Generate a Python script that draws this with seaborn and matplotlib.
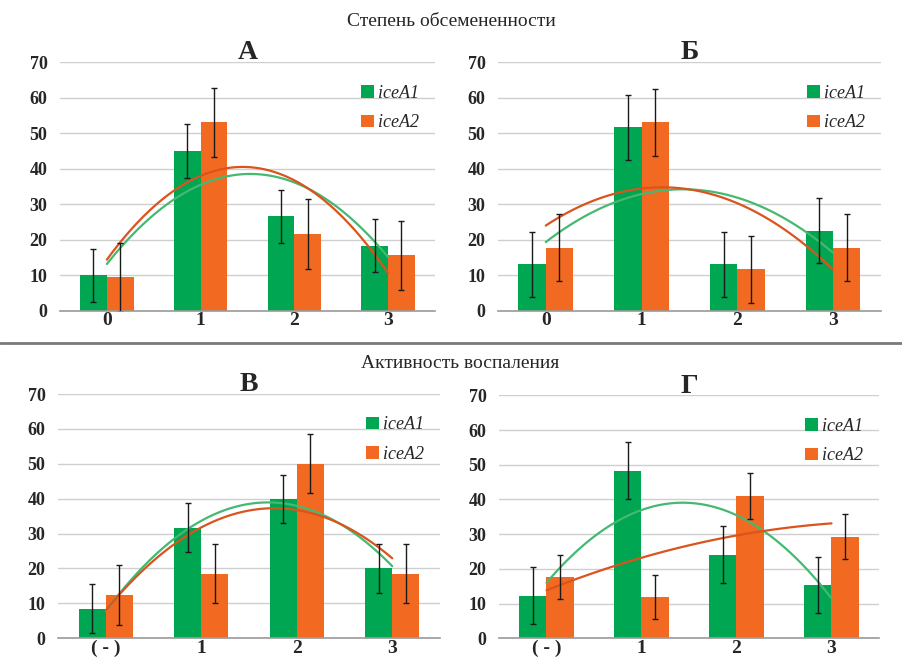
import numpy as np
import pandas as pd
import matplotlib
matplotlib.use('Agg')
import matplotlib.pyplot as plt
import seaborn as sns

# plot setting
sns.set_style('white')
plt.rcParams['font.family'] = ['Liberation Serif', 'DejaVu Serif']

# --- data ---
series = ['iceA1', 'iceA2']

cats_ab = ['0', '1', '2', '3']
cats_vg = ['( - )', '1', '2', '3']

# A
a_ice1 = [10.0, 45.0, 26.6, 18.3]
a_ice1_err = [7.4, 7.6, 7.4, 7.5]
a_ice2 = [9.4, 53.0, 21.7, 15.6]
a_ice2_err = [9.7, 9.8, 9.8, 9.8]

# Б
b_ice1 = [13.1, 51.6, 13.1, 22.6]
b_ice1_err = [9.1, 9.2, 9.1, 9.2]
b_ice2 = [17.8, 53.0, 11.7, 17.8]
b_ice2_err = [9.4, 9.4, 9.5, 9.5]

# В
v_ice1 = [8.4, 31.7, 39.9, 20.0]
v_ice1_err = [7.0, 7.1, 7.0, 7.0]
v_ice2 = [12.4, 18.5, 50.0, 18.5]
v_ice2_err = [8.5, 8.5, 8.5, 8.5]

# Г
g_ice1 = [12.2, 48.3, 24.1, 15.3]
g_ice1_err = [8.2, 8.2, 8.3, 8.1]
g_ice2 = [17.6, 11.8, 41.0, 29.3]
g_ice2_err = [6.4, 6.4, 6.6, 6.4]

bar_colors = ['#00a651', '#f26a21']
line_colors = ['#45b872', '#d9541e']


def draw_panel(ax, title, cats, v1, e1, v2, e2):
    df = pd.DataFrame({
        'cat': cats * 2,
        'value': v1 + v2,
        'series': [series[0]] * len(cats) + [series[1]] * len(cats),
    })
    sns.barplot(data=df, x='cat', y='value', hue='series', order=cats,
                hue_order=series, palette=bar_colors, width=0.57, gap=0,
                saturation=1, errorbar=None, linewidth=0, ax=ax, zorder=2)
    bar_conts = list(ax.containers)

    # error bars on each bar
    for cont, err in zip(bar_conts, [e1, e2]):
        xs = [p.get_x() + p.get_width() / 2 for p in cont.patches]
        ys = [p.get_height() for p in cont.patches]
        ax.errorbar(xs, ys, yerr=err, fmt='none', ecolor='#1a1a1a',
                    elinewidth=1.0, capsize=2, capthick=1.0, zorder=4)

    # 2nd order polynomial trend lines
    xpos = np.arange(len(cats))
    xx = np.linspace(0, len(cats) - 1, 100)
    for vals, col in zip([v1, v2], line_colors):
        coef = np.polyfit(xpos, vals, 2)
        ax.plot(xx, np.polyval(coef, xx), color=col, lw=1.6, zorder=3)

    ax.set_xlim(-0.5, len(cats) - 0.5)
    ax.set_ylim(0, 70)
    ax.set_yticks(range(0, 71, 10))
    ax.set_xlabel('')
    ax.set_ylabel('')
    ax.grid(axis='y', color='#cfcfcf', lw=1, zorder=0)
    ax.set_axisbelow(True)
    for s in ['top', 'right', 'left']:
        ax.spines[s].set_visible(False)
    ax.spines['bottom'].set_color('#9a9a9a')
    ax.spines['bottom'].set_linewidth(1.2)
    ax.tick_params(axis='y', length=0, pad=9, labelsize=13)
    ax.tick_params(axis='x', length=0, pad=1, labelsize=14)
    for lab in ax.get_yticklabels() + ax.get_xticklabels():
        lab.set_fontweight('bold')
    ax.set_title(title, fontsize=20, fontweight='bold', pad=2)

    handles = [cont.patches[0] for cont in bar_conts]
    ax.legend(handles, series, loc='upper right', bbox_to_anchor=(1.0, 0.975),
              frameon=False, handlelength=0.7, handleheight=0.7,
              handletextpad=0.2, labelspacing=0.7,
              prop={'family': 'Liberation Serif', 'style': 'italic', 'size': 13})


fig = plt.figure(figsize=(9.02, 6.6), dpi=100)

ax_a = fig.add_axes([0.0665, 0.529, 0.4157, 0.377])
ax_b = fig.add_axes([0.552, 0.529, 0.4246, 0.377])
ax_v = fig.add_axes([0.0643, 0.033, 0.4235, 0.370])
ax_g = fig.add_axes([0.5532, 0.033, 0.4213, 0.368])

draw_panel(ax_a, 'А', cats_ab, a_ice1, a_ice1_err, a_ice2, a_ice2_err)
draw_panel(ax_b, 'Б', cats_ab, b_ice1, b_ice1_err, b_ice2, b_ice2_err)
draw_panel(ax_v, 'В', cats_vg, v_ice1, v_ice1_err, v_ice2, v_ice2_err)
draw_panel(ax_g, 'Г', cats_vg, g_ice1, g_ice1_err, g_ice2, g_ice2_err)

# section headings and separator
fig.text(0.5, 1 - 22 / 660, 'Степень обсемененности', ha='center', va='center',
         fontsize=14)
fig.text(0.51, 1 - 363 / 660, 'Активность воспаления', ha='center', va='center',
         fontsize=14)
fig.add_artist(plt.Line2D([0, 1], [1 - 343 / 660] * 2, color='#7a7a7a', lw=2))

plt.savefig('out.png', dpi=100)
plt.close()
